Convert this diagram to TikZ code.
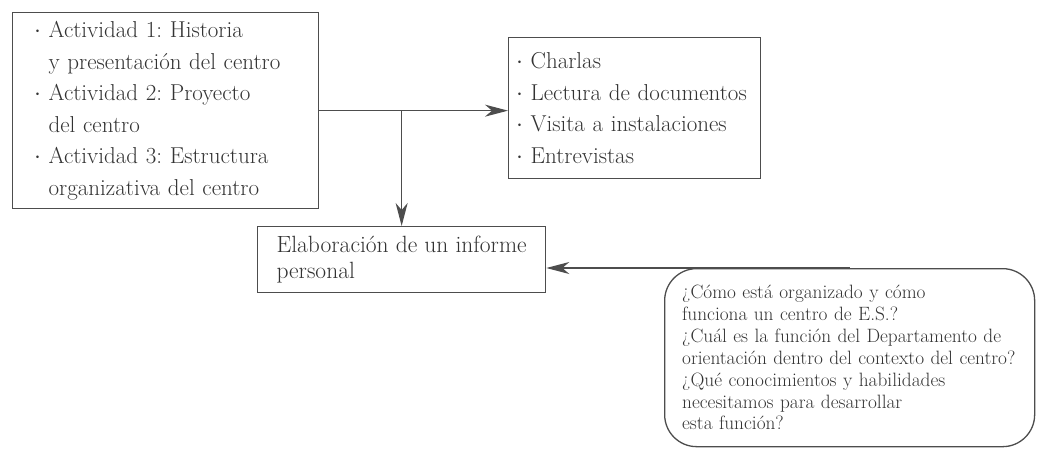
\documentclass[tikz,border=0pt]{standalone}
\usetikzlibrary{arrows.meta}
\definecolor{linec}{HTML}{4D4D4D}
\definecolor{txt}{HTML}{333333}
\newcommand{\blt}{\makebox[13pt][l]{\hspace*{-1.5pt}$\cdot$}}
\newcommand{\blind}{\hspace*{13pt}}
\begin{document}
\frenchspacing
\begin{tikzpicture}[x=1pt,y=-1pt,
  boxst/.style={draw=linec, line width=1.3pt, text=txt, inner ysep=0pt, align=left},
  listfont/.style={font=\fontsize{23}{31.5}\selectfont},
  arr/.style={draw=linec, line width=1.3pt, -{Stealth[length=23pt,width=12pt,inset=7pt,fill=linec]}}]
\useasboundingbox (0,0) rectangle (1038,450);
\node[boxst, listfont, anchor=north west, minimum width=306pt, minimum height=196pt,
      inner xsep=23pt, text width=260pt] (act) at (12,12)
  {\blt Actividad 1: Historia\\
   \blind y presentación del centro\\
   \blt Actividad 2: Proyecto\\
   \blind del centro\\
   \blt Actividad 3: Estructura\\
   \blind organizativa del centro};
\node[boxst, listfont, anchor=north west, minimum width=252pt, minimum height=141pt,
      inner xsep=9pt, text width=234pt] (lst) at (508,37)
  {\blt Charlas\\
   \blt Lectura de documentos\\
   \blt Visita a instalaciones\\
   \blt Entrevistas};
\node[boxst, font=\fontsize{23.5}{26.5}\selectfont, anchor=north west, minimum width=288pt, minimum height=66pt,
      inner xsep=0pt] (elab) at (257,226)
  {Elaboración de un informe\\ personal};
\node[boxst, font=\fontsize{19.3}{21.5}\selectfont, anchor=north west, minimum width=370pt, minimum height=178pt,
      inner xsep=17.5pt, text width=335pt, rounded corners=32pt] (q) at (664,268)
  {¿Cómo está organizado y cómo\\
   funciona un centro de E.S.?\\[1pt]
   ¿Cuál es la función del Departamento de\\
   orientación dentro del contexto del centro?\\[1pt]
   ¿Qué conocimientos y habilidades\\
   necesitamos para desarrollar\\
   esta función?};
\coordinate (j) at (act.east -| elab.north);
\draw[arr] (act.east) -- (act.east -| lst.west);
\draw[arr] (j) -- (elab.north);
\draw[arr] (q.north) -- (q.north -| elab.east);
\end{tikzpicture}
\end{document}
